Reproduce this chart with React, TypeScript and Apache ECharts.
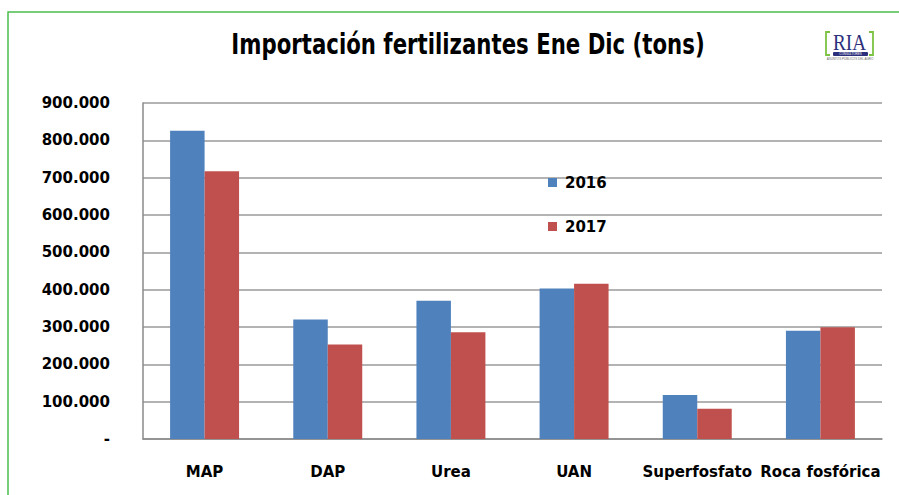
import React, { useEffect, useRef } from "react";
import * as echarts from "echarts";

const categories = ["MAP", "DAP", "Urea", "UAN", "Superfosfato", "Roca fosfórica"];
const values2016 = [826000, 320000, 370000, 403000, 118000, 290000];
const values2017 = [717000, 253000, 286000, 416000, 81000, 299000];
const seriesNames = ["2016", "2017"];
const titleText = "Importación fertilizantes Ene Dic (tons)";
const yMax = 900000;
const yInterval = 100000;

const fmt = (v: number) => {
  if (v === 0) return "-";
  return Math.round(v).toString().replace(/\B(?=(\d{3})+(?!\d))/g, ".");
};

export default function App() {
  const ref = useRef<HTMLDivElement>(null);
  useEffect(() => {
    if (!ref.current) return;
    const chart = echarts.init(ref.current, undefined, { renderer: "svg" });
    const font = "DejaVu Sans";
    chart.setOption({
      animation: false,
      backgroundColor: "#ffffff",
      grid: { left: 143, right: 17, top: 103, bottom: 56, containLabel: false },
      legend: {
        data: seriesNames,
        orient: "vertical",
        left: 543,
        top: 170,
        itemWidth: 9,
        itemHeight: 9,
        itemGap: 29,
        icon: "rect",
        textStyle: {
          fontFamily: font,
          fontWeight: "bold",
          fontSize: 15,
          color: "#000",
          padding: [0, 0, 0, 3],
        },
      },
      xAxis: {
        type: "category",
        data: categories,
        axisTick: { show: false },
        axisLine: { lineStyle: { color: "#8a8a8a", width: 1.5 } },
        axisLabel: {
          interval: 0,
          margin: 25,
          fontFamily: font,
          fontWeight: "bold",
          fontSize: 15,
          color: "#000",
        },
      },
      yAxis: {
        type: "value",
        min: 0,
        max: yMax,
        interval: yInterval,
        axisLine: { show: true, lineStyle: { color: "#8a8a8a", width: 1.5 } },
        axisTick: { show: false },
        splitLine: { lineStyle: { color: "#9a9a9a", width: 1.5 } },
        axisLabel: {
          margin: 33,
          formatter: fmt,
          fontFamily: font,
          fontWeight: "bold",
          fontSize: 15,
          color: "#000",
        },
      },
      series: [
        {
          name: seriesNames[0],
          type: "bar",
          data: values2016,
          barGap: "0%",
          barCategoryGap: "44%",
          itemStyle: { color: "#4F81BD" },
        },
        {
          name: seriesNames[1],
          type: "bar",
          data: values2017,
          barGap: "0%",
          barCategoryGap: "44%",
          itemStyle: { color: "#C0504D" },
        },
      ],
      graphic: [
        {
          type: "rect",
          shape: { x: 8, y: 12, width: 1000, height: 600 },
          style: { fill: "none", stroke: "#4cbf4c", lineWidth: 1.5 },
          silent: true,
        },
        {
          type: "text",
          x: 468,
          y: 44,
          scaleX: 0.76,
          style: {
            text: titleText,
            fontFamily: font,
            fontWeight: "bold",
            fontSize: 28,
            fill: "#000",
            align: "center",
            verticalAlign: "middle",
          },
        },
        {
          type: "polyline",
          shape: { points: [[830, 32], [826, 32], [826, 55], [830, 55]] },
          style: { fill: "none", stroke: "#7cc242", lineWidth: 1.8 },
        },
        {
          type: "polyline",
          shape: { points: [[869, 32], [873, 32], [873, 55], [869, 55]] },
          style: { fill: "none", stroke: "#7cc242", lineWidth: 1.8 },
        },
        {
          type: "text",
          x: 849.5,
          y: 42,
          scaleX: 0.8,
          style: {
            text: "RIA",
            fontFamily: "Liberation Serif",
            fontSize: 24,
            fill: "#2b2f7c",
            align: "center",
            verticalAlign: "middle",
          },
        },
        {
          type: "rect",
          shape: { x: 833, y: 52, width: 35, height: 4, r: 1 },
          style: { fill: "#2b2f7c" },
        },
        {
          type: "text",
          x: 850.5,
          y: 54,
          style: {
            text: "CONSULTORES",
            fontFamily: "Liberation Sans",
            fontSize: 3,
            fill: "#ffffff",
            align: "center",
            verticalAlign: "middle",
          },
        },
        {
          type: "text",
          x: 850,
          y: 59,
          style: {
            text: "ASUNTOS PÚBLICOS DEL AGRO",
            fontFamily: "Liberation Sans",
            fontSize: 3,
            fill: "#666",
            align: "center",
            verticalAlign: "middle",
          },
        },
      ],
    });
    return () => chart.dispose();
  }, []);
  return (
    <div
      ref={ref}
      style={{ position: "absolute", left: 0, top: 0, width: 899, height: 495 }}
    />
  );
}
